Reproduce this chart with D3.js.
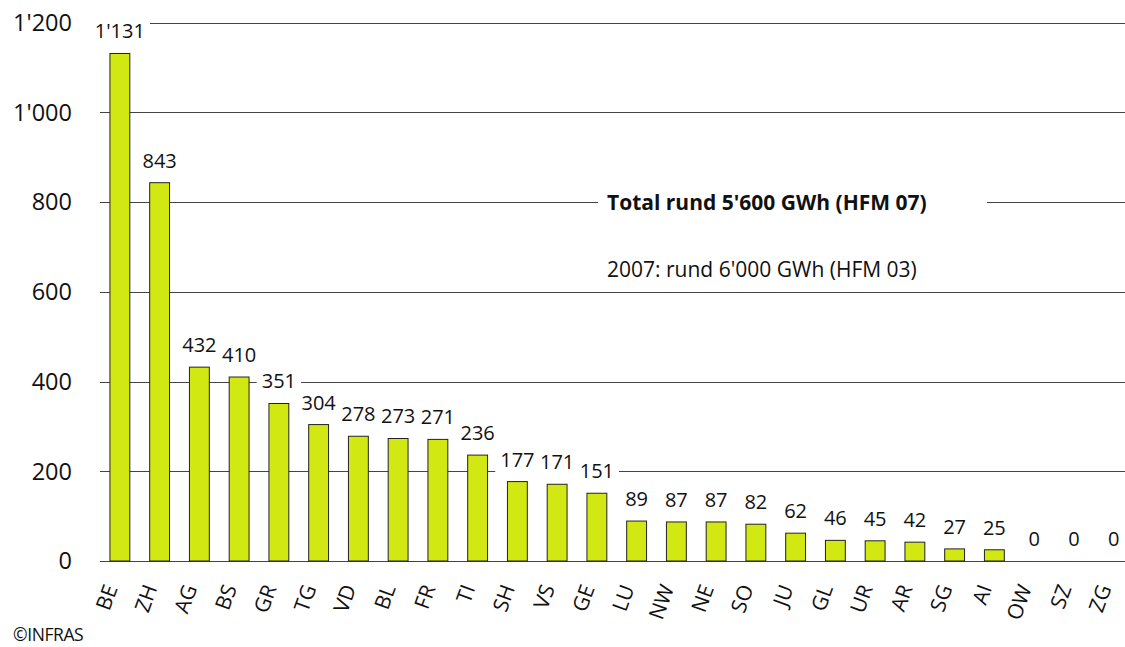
<!DOCTYPE html>
<html><head><meta charset="utf-8">
<script src="https://cdn.jsdelivr.net/npm/d3@7"></script>
<style>
html,body{margin:0;padding:0;background:#fff;}
svg{display:block;font-family:"Open Sans",sans-serif;}
</style></head>
<body>
<svg id="chart" width="1125" height="647"></svg>
<script>
const categories = ["BE","ZH","AG","BS","GR","TG","VD","BL","FR","TI","SH","VS","GE","LU","NW","NE","SO","JU","GL","UR","AR","SG","AI","OW","SZ","ZG"];
const values = [1131,843,432,410,351,304,278,273,271,236,177,171,151,89,87,87,82,62,46,45,42,27,25,0,0,0];
const yTicks = [0,200,400,600,800,1000,1200];
const totalText = "Total rund 5'600 GWh (HFM 07)";
const prevText = "2007: rund 6'000 GWh (HFM 03)";
const credit = "©INFRAS";

const loc = d3.formatLocale({decimal:".", thousands:"'", grouping:[3], currency:["",""]});
const fmt = loc.format(",d");

const svg = d3.select("#chart");
const x = d3.scaleBand().domain(categories).range([100,1133.5]).paddingInner(0.5).paddingOuter(0.25);
const y = d3.scaleLinear().domain([0,1200]).range([561,22.5]);

// gridlines
svg.append("g").selectAll("line").data(yTicks).join("line")
  .attr("x1",100).attr("x2",1125)
  .attr("y1",d=>Math.round(y(d))+0.5).attr("y2",d=>Math.round(y(d))+0.5)
  .attr("stroke","#444").attr("stroke-width",1);

// y tick labels
svg.append("g").selectAll("text").data(yTicks).join("text")
  .attr("x",72).attr("y",d=>y(d)).attr("dy","0.36em")
  .attr("text-anchor","end").attr("font-size",23.5).attr("fill","#111")
  .text(d=>fmt(d));

// value labels with white backgrounds
const lg = svg.append("g");
categories.forEach((c,i)=>{
  const t = lg.append("text")
    .attr("x", x(c)+x.bandwidth()/2)
    .attr("y", y(values[i]) - 15)
    .attr("text-anchor","middle").attr("font-size",20).attr("fill","#111")
    .text(fmt(values[i]));
  const b = t.node().getBBox();
  lg.insert("rect", function(){return t.node();})
    .attr("x", b.x-5).attr("y", b.y).attr("width", b.width+10).attr("height", b.height)
    .attr("fill","#fff");
});

// annotation texts
const ag = svg.append("g");
ag.append("rect").attr("x",598).attr("y",y(800)-13).attr("width",389).attr("height",26).attr("fill","#fff");
ag.append("text").attr("x",607).attr("y",y(800)).attr("dy","0.36em")
  .attr("font-size",21).attr("font-weight","bold").attr("fill","#111").text(totalText);
ag.append("text").attr("x",607).attr("y",y(649)).attr("dy","0.36em")
  .attr("font-size",21).attr("fill","#111").text(prevText);

// bars
svg.append("g").selectAll("rect").data(values).join("rect")
  .attr("x",(d,i)=>x(categories[i]))
  .attr("width",x.bandwidth())
  .attr("y",d=>y(d))
  .attr("height",d=>y(0)-y(d))
  .attr("fill","#d2e812").attr("stroke","#222").attr("stroke-width",1)
  .style("display",d=>d>0?null:"none");

// category labels
svg.append("g").selectAll("text").data(categories).join("text")
  .attr("transform",d=>`translate(${x(d)+x.bandwidth()/2-2},588) rotate(-70)`)
  .attr("text-anchor","end").attr("font-size",21).attr("fill","#111")
  .text(d=>d);

svg.append("text").attr("x",13).attr("y",641).attr("font-size",17.5).attr("letter-spacing","-0.4").attr("fill","#111").text(credit);
</script>
</body></html>
